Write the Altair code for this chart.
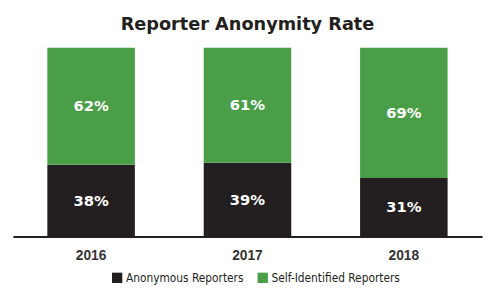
import altair as alt
import pandas as pd

years = ["2016", "2017", "2018"]
anonymous = [38, 39, 31]
self_identified = [62, 61, 69]
series = ["Anonymous Reporters", "Self-Identified Reporters"]
colors = ["#231f20", "#4a9e47"]

rows = []
for i, y in enumerate(years):
    rows.append({"year": y, "series": series[0], "order": 0, "value": anonymous[i]})
    rows.append({"year": y, "series": series[1], "order": 1, "value": self_identified[i]})
df = pd.DataFrame(rows)

base = alt.Chart(df).transform_stack(
    stack="value", groupby=["year"], as_=["y0", "y1"],
    sort=[alt.SortField("order", order="ascending")]
).transform_calculate(
    mid="(datum.y0 + datum.y1) / 2",
    label="datum.value + '%'"
)

x = alt.X("year:N", title=None, sort=years,
          scale=alt.Scale(paddingInner=0, paddingOuter=0),
          axis=alt.Axis(labelAngle=0, ticks=False, domainColor="#231f20", domainWidth=2,
                        labelFont="Liberation Sans", labelFontWeight="bold", labelFontSize=14,
                        labelColor="#333333", labelPadding=12))

bars = base.mark_bar(size=89).encode(
    x=x,
    y=alt.Y("y0:Q", scale=alt.Scale(domain=[0, 100], nice=False), axis=None),
    y2="y1:Q",
    color=alt.Color("series:N", sort=series,
                    scale=alt.Scale(domain=series, range=colors),
                    legend=alt.Legend(title=None, orient="none", direction="horizontal",
                                      legendX=100, legendY=228, symbolType="square",
                                      symbolSize=110, symbolOpacity=1, symbolStrokeWidth=0,
                                      labelFont="DejaVu Sans Condensed", labelFontSize=12,
                                      labelColor="#231f20", columnPadding=13, labelOffset=3,
                                      padding=0)),
)

labels = base.mark_text(color="white", font="DejaVu Sans", fontWeight="bold",
                        fontSize=15, baseline="middle").encode(
    x=alt.X("year:N", sort=years),
    y=alt.Y("mid:Q"),
    text="label:N",
)

chart = alt.layer(bars, labels).properties(
    width=477, height=192,
    title=alt.Title("Reporter Anonymity Rate", font="DejaVu Sans", fontWeight="bold",
                    fontSize=18, color="#231f20", anchor="middle", offset=14),
    autosize=alt.AutoSizeParams(type="none"),
    padding={"left": 5, "top": 38, "right": 2, "bottom": 50},
).configure_view(stroke=None)

chart.save("out.html", embed_options={"renderer": "svg", "actions": False})
